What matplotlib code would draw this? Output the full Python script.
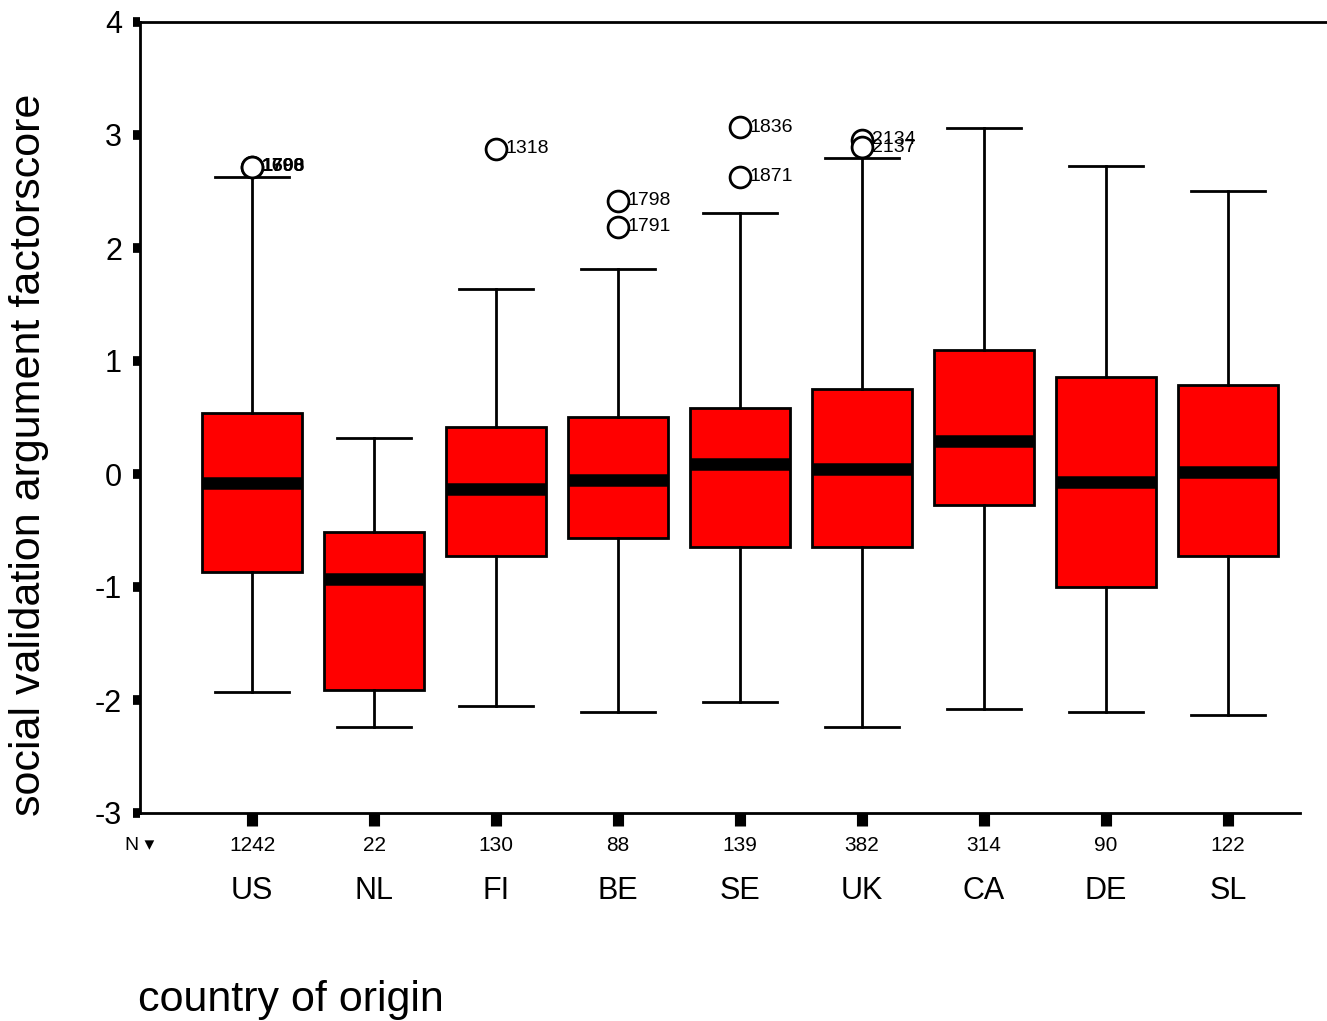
import matplotlib
matplotlib.use("Agg")
import matplotlib.pyplot as plt

plt.rcParams['font.family'] = ['Liberation Sans', 'DejaVu Sans']

countries = ['US', 'NL', 'FI', 'BE', 'SE', 'UK', 'CA', 'DE', 'SL']
n_counts = ['1242', '22', '130', '88', '139', '382', '314', '90', '122']
whislo = [-1.93, -2.24, -2.05, -2.11, -2.02, -2.24, -2.08, -2.11, -2.13]
q1 = [-0.87, -1.91, -0.73, -0.57, -0.65, -0.65, -0.27, -1.00, -0.73]
med = [-0.08, -0.93, -0.13, -0.05, 0.09, 0.04, 0.29, -0.07, 0.02]
q3 = [0.54, -0.51, 0.42, 0.50, 0.58, 0.75, 1.10, 0.86, 0.79]
whishi = [2.63, 0.32, 1.64, 1.81, 2.31, 2.80, 3.06, 2.73, 2.50]
# outliers: (country index, value, case label)
outliers = [(0, 2.72, '1698'), (0, 2.72, '1700'),
            (2, 2.88, '1318'),
            (3, 2.42, '1798'), (3, 2.19, '1791'),
            (4, 3.07, '1836'), (4, 2.63, '1871'),
            (5, 2.96, '2134'), (5, 2.89, '2137')]

fig = plt.figure(figsize=(13.27, 10.21), dpi=100)
ax = fig.add_axes([140 / 1327, 208 / 1021, 1187 / 1327, 791 / 1021])

stats = []
for i, c in enumerate(countries):
    stats.append(dict(label=c, whislo=whislo[i], q1=q1[i], med=med[i],
                      q3=q3[i], whishi=whishi[i], fliers=[]))
pos = list(range(1, len(countries) + 1))
ax.bxp(stats, positions=pos, widths=0.82, patch_artist=True, showfliers=False,
       boxprops=dict(facecolor='#ff0000', edgecolor='black', linewidth=2),
       medianprops=dict(color='black', linewidth=9, solid_capstyle='butt'),
       whiskerprops=dict(color='black', linewidth=2),
       capprops=dict(color='black', linewidth=2), capwidths=0.6)

for idx, val, lab in outliers:
    x = pos[idx]
    ax.plot(x, val, 'o', mfc='white', mec='black', ms=15, mew=2, zorder=5)
    ax.text(x + 0.08, val, lab, fontsize=14, va='center', ha='left',
            fontweight='bold' if idx == 0 else 'normal', zorder=6)

ax.set_ylim(-3, 4)
ax.set_xlim(0.082, 9.811)
ax.set_yticks(range(-3, 5))
ax.set_yticklabels([str(v) for v in range(-3, 5)], fontsize=22)
ax.tick_params(axis='y', direction='out', length=5, width=7, pad=8)
ax.set_xticks(pos)
ax.set_xticklabels([''] * len(pos))
ax.tick_params(axis='x', direction='out', length=9, width=8)

ax.spines['right'].set_visible(False)
ax.spines['left'].set_linewidth(2)
ax.spines['top'].set_linewidth(2)
ax.spines['bottom'].set_linewidth(2)
ax.spines['bottom'].set_bounds(0.082, 9.59)

tr = ax.get_xaxis_transform()
for p, n, c in zip(pos, n_counts, countries):
    ax.text(p, -0.0405, n, transform=tr, ha='center', va='center', fontsize=15)
    ax.text(p, -0.098, c, transform=tr, ha='center', va='center', fontsize=22)
ax.text(-0.0, -0.0405, 'N \u25be', transform=ax.transAxes, ha='center',
        va='center', fontsize=14)

ax.set_ylabel('social validation argument factorscore', fontsize=31)
ax.yaxis.set_label_coords(-0.077, 0.453)
fig.text(138 / 1327, 1 - 1000 / 1021, 'country of origin', fontsize=31,
         ha='left', va='center')

fig.savefig('out.png', dpi=100)
